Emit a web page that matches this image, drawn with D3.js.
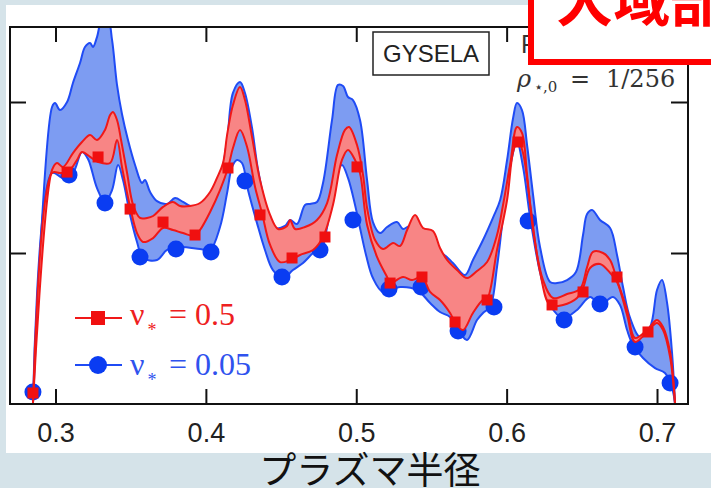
<!DOCTYPE html>
<html lang="ja">
<head>
<meta charset="utf-8">
<title>GYSELA chi profile</title>
<script src="https://d3js.org/d3.v7.min.js"></script>
<style>
  body { margin: 0; background: #d5e3e9; }
  svg { display: block; }
  .tick text { font-family: "Liberation Sans", Arial, sans-serif; font-size: 27px; fill: #222; }
  .tick line { stroke: #111; stroke-width: 2px; }
</style>
</head>
<body>
<div id="chart"></div>
<script>

// ---- data (rho = plasma radius, chi in arbitrary units) ----
var xTicks = [0.3, 0.4, 0.5, 0.6, 0.7];
var yTicks = [1, 2];

var blueUpper = [[0.285,0],[0.2977,1.967],[0.2997,1.993],[0.303,1.947],[0.3077,2.0],[0.3116,2.126],[0.3163,2.258],[0.3196,2.364],[0.323,2.391],[0.3249,2.364],[0.3276,2.43],[0.3309,2.543],[0.3349,2.543],[0.3376,2.411],[0.3409,2.113],[0.3442,1.921],[0.3482,1.748],[0.3529,1.583],[0.3575,1.464],[0.3595,1.483],[0.3629,1.404],[0.3675,1.344],[0.3742,1.325],[0.3795,1.364],[0.3848,1.338],[0.3914,1.305],[0.3961,1.318],[0.4028,1.384],[0.4094,1.497],[0.4141,1.748],[0.418,2.06],[0.4227,2.132],[0.426,2.06],[0.4307,1.828],[0.4347,1.55],[0.4407,1.285],[0.446,1.166],[0.4526,1.179],[0.456,1.219],[0.4606,1.192],[0.4659,1.318],[0.4693,1.325],[0.4739,1.338],[0.4779,1.464],[0.4839,1.881],[0.4879,2.113],[0.4912,2.106],[0.4945,2.033],[0.4978,2.013],[0.5025,1.881],[0.5072,1.483],[0.5111,1.205],[0.5158,1.132],[0.5205,1.172],[0.5271,1.205],[0.5311,1.159],[0.5358,1.179],[0.5404,1.113],[0.5491,1.02],[0.5577,0.993],[0.5643,0.934],[0.5723,0.854],[0.5776,0.954],[0.5843,1.086],[0.5911,1.238],[0.5957,1.351],[0.6003,1.616],[0.6043,1.894],[0.6069,1.993],[0.6102,1.947],[0.6136,1.715],[0.6176,1.384],[0.6222,1.04],[0.6289,0.808],[0.6335,0.801],[0.6402,0.821],[0.6461,0.874],[0.6508,1.119],[0.6535,1.258],[0.6568,1.285],[0.6621,1.219],[0.6688,1.166],[0.6734,0.987],[0.6774,0.775],[0.6821,0.57],[0.6887,0.444],[0.6954,0.51],[0.7,0.755],[0.7033,0.821],[0.7067,0.669],[0.71,0.338],[0.712,0]];

var blueLower = [[0.285,0],[0.2977,1.53],[0.305,1.497],[0.3116,1.53],[0.3176,1.669],[0.3216,1.623],[0.3276,1.43],[0.3329,1.338],[0.3376,1.417],[0.3416,1.583],[0.3449,1.483],[0.3496,1.252],[0.3542,1.073],[0.3582,0.967],[0.3675,0.954],[0.3742,1.02],[0.3828,1.04],[0.3961,1.026],[0.4028,1.02],[0.4094,1.172],[0.4141,1.397],[0.4174,1.57],[0.4207,1.616],[0.424,1.596],[0.428,1.417],[0.434,1.198],[0.4393,1.02],[0.4446,0.887],[0.4513,0.834],[0.4579,0.887],[0.4646,0.934],[0.4713,1.0],[0.4772,1.04],[0.4806,1.172],[0.4839,1.371],[0.4872,1.53],[0.4905,1.583],[0.4945,1.497],[0.4992,1.318],[0.5025,1.166],[0.5065,0.987],[0.5111,0.834],[0.5178,0.742],[0.5291,0.775],[0.5404,0.755],[0.5491,0.669],[0.5557,0.609],[0.5624,0.576],[0.569,0.47],[0.5737,0.424],[0.5803,0.556],[0.5843,0.603],[0.589,0.642],[0.5936,0.907],[0.5976,1.238],[0.6023,1.57],[0.6069,1.735],[0.6109,1.57],[0.6156,1.238],[0.6222,0.874],[0.6289,0.656],[0.6375,0.57],[0.6468,0.623],[0.6555,0.709],[0.6621,0.656],[0.6707,0.709],[0.6754,0.656],[0.6801,0.49],[0.684,0.391],[0.6907,0.305],[0.6987,0.238],[0.7053,0.205],[0.71,0.106],[0.712,0]];

var redUpper = [[0.285,0],[0.2977,1.55],[0.301,1.596],[0.305,1.57],[0.3116,1.662],[0.3176,1.735],[0.323,1.781],[0.3276,1.748],[0.3329,1.815],[0.3363,1.914],[0.3382,1.934],[0.3409,1.881],[0.3436,1.748],[0.3476,1.53],[0.3516,1.318],[0.3562,1.232],[0.3609,1.232],[0.3649,1.245],[0.3715,1.305],[0.3781,1.338],[0.3828,1.311],[0.3895,1.311],[0.3961,1.331],[0.4028,1.404],[0.4074,1.497],[0.4114,1.596],[0.4141,1.781],[0.418,1.98],[0.4227,2.099],[0.426,2.013],[0.4307,1.768],[0.436,1.483],[0.4427,1.252],[0.448,1.159],[0.454,1.179],[0.456,1.219],[0.4593,1.159],[0.4659,1.172],[0.4739,1.219],[0.4806,1.331],[0.4872,1.649],[0.4925,1.815],[0.4952,1.834],[0.5005,1.715],[0.5045,1.517],[0.5072,1.298],[0.5125,1.086],[0.5178,1.026],[0.5245,1.066],[0.5291,1.046],[0.5338,1.152],[0.5391,1.252],[0.5444,1.166],[0.551,1.146],[0.5557,1.033],[0.5604,0.954],[0.567,0.887],[0.5737,0.834],[0.5803,0.881],[0.587,0.94],[0.5936,1.119],[0.5976,1.318],[0.6023,1.583],[0.6069,1.834],[0.6102,1.795],[0.6136,1.517],[0.6176,1.152],[0.6242,0.821],[0.6309,0.702],[0.6402,0.728],[0.6488,0.762],[0.6535,0.907],[0.6574,1.007],[0.6641,1.0],[0.6688,0.954],[0.6734,0.821],[0.6801,0.623],[0.6854,0.437],[0.6934,0.49],[0.7,0.556],[0.704,0.51],[0.7087,0.344],[0.712,0]];

var redLower = [[0.285,0],[0.2977,1.53],[0.303,1.53],[0.3083,1.536],[0.3143,1.616],[0.3176,1.669],[0.323,1.636],[0.3283,1.603],[0.3363,1.596],[0.3409,1.748],[0.3442,1.57],[0.3496,1.305],[0.3542,1.132],[0.3582,1.073],[0.3649,1.099],[0.3715,1.166],[0.3781,1.152],[0.3848,1.132],[0.3928,1.113],[0.3961,1.152],[0.4028,1.272],[0.4094,1.417],[0.4147,1.563],[0.418,1.695],[0.4227,1.815],[0.4274,1.702],[0.4327,1.437],[0.4373,1.265],[0.4427,1.053],[0.4493,0.94],[0.456,0.954],[0.4626,0.987],[0.4713,1.02],[0.4779,1.106],[0.4845,1.318],[0.4905,1.616],[0.4945,1.682],[0.4992,1.616],[0.5025,1.53],[0.5072,1.185],[0.5138,0.974],[0.5205,0.841],[0.5225,0.801],[0.5311,0.841],[0.5371,0.821],[0.5437,0.841],[0.5491,0.742],[0.5557,0.689],[0.5624,0.603],[0.5657,0.543],[0.571,0.49],[0.5776,0.603],[0.5843,0.689],[0.587,0.695],[0.5936,1.02],[0.6003,1.351],[0.6043,1.669],[0.6076,1.748],[0.6109,1.662],[0.6156,1.331],[0.6222,0.874],[0.6289,0.656],[0.6375,0.656],[0.6468,0.702],[0.6508,0.768],[0.6555,0.901],[0.6621,0.927],[0.6688,0.868],[0.6734,0.808],[0.6801,0.589],[0.6854,0.411],[0.6934,0.477],[0.7,0.536],[0.704,0.49],[0.7087,0.311],[0.712,0]];

var redSquares = [[0.285,0.073],[0.3077,1.536],[0.3283,1.636],[0.3496,1.291],[0.3715,1.205],[0.3928,1.119],[0.4147,1.563],[0.436,1.252],[0.4573,0.967],[0.4792,1.106],[0.5005,1.57],[0.5225,0.801],[0.5437,0.841],[0.5657,0.543],[0.587,0.689],[0.6076,1.735],[0.6302,0.656],[0.6508,0.742],[0.6734,0.841],[0.694,0.477]];

var blueCircles = [[0.285,0.079],[0.309,1.517],[0.3329,1.331],[0.3562,0.974],[0.3801,1.026],[0.4034,1.007],[0.426,1.477],[0.4506,0.841],[0.4759,1.02],[0.4978,1.219],[0.5218,0.762],[0.5431,0.775],[0.5677,0.483],[0.5916,0.642],[0.6143,1.212],[0.6382,0.556],[0.6621,0.662],[0.6854,0.377],[0.7087,0.139]];

// ---- layout ----
var width = 711, height = 488;
var frame = {left: 10, right: 688, top: 27, bottom: 404};

var svg = d3.select("#chart").append("svg")
    .attr("width", width)
    .attr("height", height);

svg.append("rect").attr("width", width).attr("height", height).attr("fill", "#d5e3e9");
svg.append("rect").attr("x", 6).attr("y", 5).attr("width", 710).attr("height", 448).attr("fill", "#fff");

var x = d3.scaleLinear()
    .domain([0.26974, 0.72061])
    .range([frame.left, frame.right]);

var y = d3.scaleLinear()
    .domain([0, 2.5])
    .range([frame.bottom, frame.bottom - 2.5 * 151]);

svg.append("clipPath").attr("id", "clip")
  .append("rect")
    .attr("x", frame.left).attr("y", frame.top)
    .attr("width", frame.right - frame.left).attr("height", frame.bottom - frame.top);

var plot = svg.append("g").attr("clip-path", "url(#clip)");

var line = d3.line()
    .x(function(d) { return x(d[0]); })
    .y(function(d) { return y(d[1]); })
    .curve(d3.curveCatmullRom.alpha(0.5));

var band = d3.line()
    .x(function(d) { return x(d[0]); })
    .y(function(d) { return y(d[1]); })
    .curve(d3.curveCatmullRomClosed.alpha(0.5));

function bandPts(up, low) {
  return up.concat(low.slice(1, -1).reverse());
}

// blue band (nu = 0.05)
plot.append("path")
    .attr("d", band(bandPts(blueUpper, blueLower)))
    .attr("fill", "#7d9cf2");
[blueUpper, blueLower].forEach(function(s) {
  plot.append("path").attr("d", line(s))
      .attr("fill", "none").attr("stroke", "#1f4bf5").attr("stroke-width", 2);
});

plot.selectAll(".circ")
  .data(blueCircles)
  .enter().append("circle")
    .attr("class", "circ")
    .attr("cx", function(d) { return x(d[0]); })
    .attr("cy", function(d) { return y(d[1]); })
    .attr("r", 8.5)
    .attr("fill", "#0a3cf2");

// red band (nu = 0.5)
plot.append("path")
    .attr("d", band(bandPts(redUpper, redLower)))
    .attr("fill", "#f88585");
[redUpper, redLower].forEach(function(s) {
  plot.append("path").attr("d", line(s))
      .attr("fill", "none").attr("stroke", "#f01818").attr("stroke-width", 2);
});

var sq = 11;
plot.selectAll(".sq")
  .data(redSquares)
  .enter().append("rect")
    .attr("class", "sq")
    .attr("x", function(d) { return x(d[0]) - sq / 2; })
    .attr("y", function(d) { return y(d[1]) - sq / 2; })
    .attr("width", sq).attr("height", sq)
    .attr("fill", "#f01010");

// axes: inward ticks on all four sides
svg.append("g")
    .attr("transform", "translate(0," + frame.bottom + ")")
    .call(d3.axisBottom(x).tickValues(xTicks).tickSize(-15).tickPadding(19)
      .tickFormat(d3.format(".1f")))
  .select(".domain").remove();

svg.append("g")
    .attr("transform", "translate(0," + frame.top + ")")
    .call(d3.axisTop(x).tickValues(xTicks).tickSize(-15).tickFormat(""))
  .select(".domain").remove();

svg.append("g")
    .attr("transform", "translate(" + frame.left + ",0)")
    .call(d3.axisLeft(y).tickValues(yTicks).tickSize(-16).tickFormat(""))
  .select(".domain").remove();

svg.append("g")
    .attr("transform", "translate(" + frame.right + ",0)")
    .call(d3.axisRight(y).tickValues(yTicks).tickSize(-17).tickFormat(""))
  .select(".domain").remove();

svg.append("rect")
    .attr("x", frame.left).attr("y", frame.top)
    .attr("width", frame.right - frame.left).attr("height", frame.bottom - frame.top)
    .attr("fill", "none").attr("stroke", "#111").attr("stroke-width", 2);

// code label
svg.append("rect")
    .attr("x", 373).attr("y", 32).attr("width", 116).attr("height", 43)
    .attr("fill", "#fff").attr("stroke", "#222").attr("stroke-width", 1.5);
svg.append("text")
    .attr("x", 431).attr("y", 62)
    .attr("text-anchor", "middle")
    .attr("font-family", "Liberation Sans, Arial, sans-serif")
    .attr("font-size", 24).attr("fill", "#222")
    .text("GYSELA");

svg.append("text")
    .attr("x", 521).attr("y", 53)
    .attr("font-family", "Liberation Sans, Arial, sans-serif")
    .attr("font-size", 25).attr("fill", "#333")
    .text("F");

var rho = svg.append("text")
    .attr("y", 87)
    .attr("font-family", "DejaVu Serif, serif")
    .attr("font-size", 24).attr("fill", "#333");
rho.append("tspan").attr("x", 517).attr("font-style", "italic").text("ρ");
rho.append("tspan").attr("x", 534).attr("font-size", 15).attr("dy", 5).text("⋆,0");
rho.append("tspan").attr("x", 570).attr("dy", -5).text("=");
rho.append("tspan").attr("x", 606).text("1/256");

// legend
var legend = [
  {label: "0.5", color: "#f01818", text: "#ee2020", ly: 318, ty: 325, mark: "square"},
  {label: "0.05", color: "#1f4bf5", text: "#2f52ee", ly: 365, ty: 375, mark: "circle"}
];

legend.forEach(function(d) {
  svg.append("line")
      .attr("x1", 75).attr("x2", 122).attr("y1", d.ly).attr("y2", d.ly)
      .attr("stroke", d.color).attr("stroke-width", 2);
  if (d.mark === "square") {
    svg.append("rect").attr("x", 98 - 7).attr("y", d.ly - 7).attr("width", 14).attr("height", 14)
        .attr("fill", "#f01010");
  } else {
    svg.append("circle").attr("cx", 98).attr("cy", d.ly).attr("r", 9).attr("fill", "#0a3cf2");
  }
  var t = svg.append("text")
      .attr("x", 130).attr("y", d.ty)
      .attr("font-family", "Liberation Serif, serif")
      .attr("font-size", 32).attr("fill", d.text);
  t.append("tspan").text("ν");
  t.append("tspan").attr("font-size", 18).attr("dy", 11).attr("dx", 3).text("*");
  t.append("tspan").attr("x", 169).attr("dy", -11).text("= " + d.label);
});

// x axis title
svg.append("text")
    .attr("x", 370).attr("y", 484)
    .attr("text-anchor", "middle")
    .attr("font-family", "Noto Sans CJK JP, sans-serif")
    .attr("font-size", 37).attr("fill", "#111")
    .text("プラズマ半径");

// red heading box (cut off by the window)
svg.append("rect")
    .attr("x", 531).attr("y", -20).attr("width", 200).attr("height", 82)
    .attr("fill", "#fff").attr("stroke", "#ff0000").attr("stroke-width", 6);
svg.append("text")
    .attr("x", 556).attr("y", 21)
    .attr("font-family", "Noto Sans CJK JP, sans-serif")
    .attr("font-weight", "bold")
    .attr("font-size", 57).attr("fill", "#ff0000")
    .text("大域部");

</script>
</body>
</html>
